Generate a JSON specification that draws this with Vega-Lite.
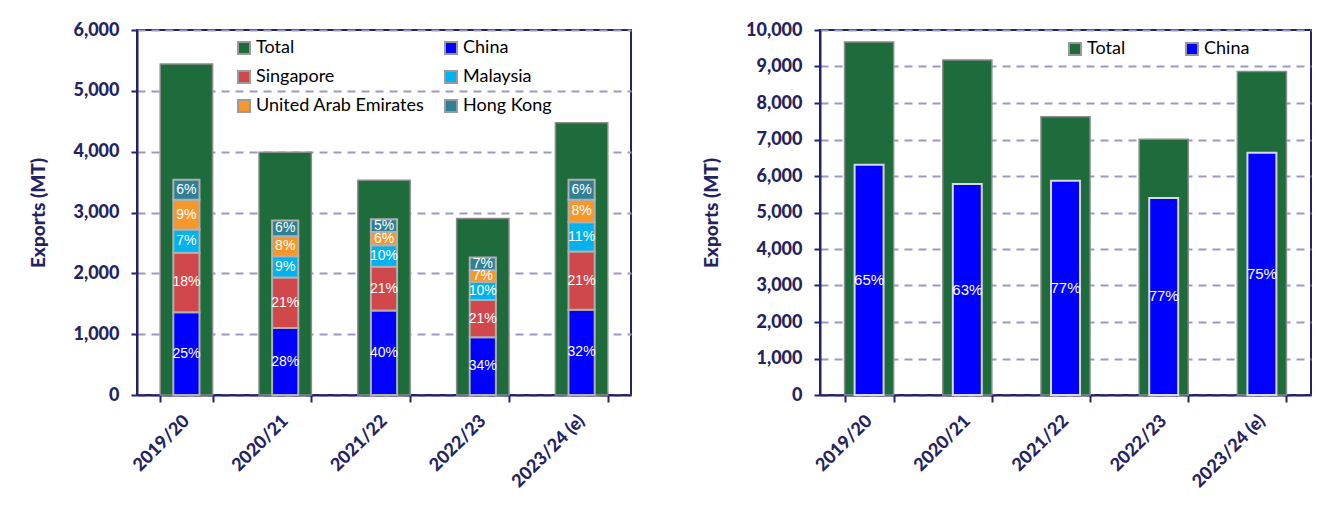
{
  "$schema": "https://vega.github.io/schema/vega-lite/v6.json",
  "background": "white",
  "padding": {"left": 28, "top": 20, "right": 5, "bottom": 5},
  "spacing": 189,
  "bounds": "flush",
  "config": {
    "view": {"stroke": "#23236b", "strokeWidth": 2},
    "axis": {
      "labelFont": "Lato", "labelFontWeight": 900, "labelColor": "#23235f", "labelFontSize": 18,
      "domainColor": "#23236b", "domainWidth": 2, "tickColor": "#23236b", "tickWidth": 2, "tickSize": 6,
      "titleFont": "Lato", "titleFontWeight": 900, "titleColor": "#23235f", "titleFontSize": 19
    },
    "axisY": {"gridColor": "#9a9ac4", "gridDash": [8, 6], "gridWidth": 2, "labelPadding": 12, "titlePadding": 24},
    "axisX": {"labelAngle": -45, "grid": false, "labelAlign": "right", "labelBaseline": "middle", "labelPadding": 16, "tickBand": "extent", "tickSize": 7},
    "legend": {
      "symbolType": "square", "symbolSize": 144, "symbolStrokeColor": "#9a9a9a", "symbolStrokeWidth": 2,
      "labelFont": "Lato", "labelFontSize": 18, "labelColor": "#000000", "labelLimit": 300,
      "rowPadding": 9, "labelOffset": 3, "padding": 0
    }
  },
  "resolve": {"scale": {"color": "independent", "x": "independent", "y": "independent"}, "legend": {"color": "independent"}},
  "hconcat": [
    {
      "width": 494,
      "height": 365,
      "data": {"values": [
        {"year": "2019/20", "series": "Total", "value": 5440, "pct": ""},
        {"year": "2019/20", "series": "China", "value": 1360, "pct": "25%"},
        {"year": "2019/20", "series": "Singapore", "value": 980, "pct": "18%"},
        {"year": "2019/20", "series": "Malaysia", "value": 380, "pct": "7%"},
        {"year": "2019/20", "series": "United Arab Emirates", "value": 490, "pct": "9%"},
        {"year": "2019/20", "series": "Hong Kong", "value": 330, "pct": "6%"},
        {"year": "2020/21", "series": "Total", "value": 3990, "pct": ""},
        {"year": "2020/21", "series": "China", "value": 1100, "pct": "28%"},
        {"year": "2020/21", "series": "Singapore", "value": 830, "pct": "21%"},
        {"year": "2020/21", "series": "Malaysia", "value": 350, "pct": "9%"},
        {"year": "2020/21", "series": "United Arab Emirates", "value": 330, "pct": "8%"},
        {"year": "2020/21", "series": "Hong Kong", "value": 260, "pct": "6%"},
        {"year": "2021/22", "series": "Total", "value": 3530, "pct": ""},
        {"year": "2021/22", "series": "China", "value": 1390, "pct": "40%"},
        {"year": "2021/22", "series": "Singapore", "value": 720, "pct": "21%"},
        {"year": "2021/22", "series": "Malaysia", "value": 350, "pct": "10%"},
        {"year": "2021/22", "series": "United Arab Emirates", "value": 220, "pct": "6%"},
        {"year": "2021/22", "series": "Hong Kong", "value": 210, "pct": "5%"},
        {"year": "2022/23", "series": "Total", "value": 2900, "pct": ""},
        {"year": "2022/23", "series": "China", "value": 950, "pct": "34%"},
        {"year": "2022/23", "series": "Singapore", "value": 610, "pct": "21%"},
        {"year": "2022/23", "series": "Malaysia", "value": 300, "pct": "10%"},
        {"year": "2022/23", "series": "United Arab Emirates", "value": 190, "pct": "7%"},
        {"year": "2022/23", "series": "Hong Kong", "value": 210, "pct": "7%"},
        {"year": "2023/24 (e)", "series": "Total", "value": 4475, "pct": ""},
        {"year": "2023/24 (e)", "series": "China", "value": 1400, "pct": "32%"},
        {"year": "2023/24 (e)", "series": "Singapore", "value": 960, "pct": "21%"},
        {"year": "2023/24 (e)", "series": "Malaysia", "value": 480, "pct": "11%"},
        {"year": "2023/24 (e)", "series": "United Arab Emirates", "value": 370, "pct": "8%"},
        {"year": "2023/24 (e)", "series": "Hong Kong", "value": 330, "pct": "6%"}
      ]},
      "encoding": {
        "x": {"field": "year", "type": "nominal", "sort": null, "title": null,
              "scale": {"paddingInner": 0.47, "paddingOuter": 0.235}}
      },
      "layer": [
        {
          "transform": [{"filter": "datum.series === 'Total'"}],
          "mark": {"type": "bar", "stroke": "#8a8a8a", "strokeWidth": 1.5},
          "encoding": {
            "y": {"field": "value", "type": "quantitative", "title": "Exports (MT)",
                  "scale": {"domain": [0, 6000], "nice": false},
                  "axis": {"values": [0, 1000, 2000, 3000, 4000, 5000, 6000], "format": ",d"}},
            "color": {"field": "series", "type": "nominal",
              "scale": {"domain": ["Total", "Singapore", "United Arab Emirates", "China", "Malaysia", "Hong Kong"],
                        "range": ["#1e6b3c", "#d0484b", "#f7962a", "#0000ff", "#00b2ee", "#2f7f96"]},
              "legend": {"orient": "none", "legendX": 98, "legendY": 9, "columns": 2, "columnPadding": 16, "title": null}}
          }
        },
        {
          "transform": [
            {"filter": "datum.series !== 'Total'"},
            {"calculate": "indexof(['China','Singapore','Malaysia','United Arab Emirates','Hong Kong'], datum.series)", "as": "k"},
            {"stack": "value", "groupby": ["year"], "sort": [{"field": "k", "order": "ascending"}], "as": ["v0", "v1"]}
          ],
          "mark": {"type": "bar", "width": {"band": 0.5}, "stroke": "#b0b0b0", "strokeWidth": 2},
          "encoding": {
            "y": {"field": "v0", "type": "quantitative", "title": "Exports (MT)",
                  "axis": {"values": [0, 1000, 2000, 3000, 4000, 5000, 6000], "format": ",d"}},
            "y2": {"field": "v1"},
            "color": {"field": "series", "type": "nominal"}
          }
        },
        {
          "transform": [
            {"filter": "datum.series !== 'Total'"},
            {"calculate": "indexof(['China','Singapore','Malaysia','United Arab Emirates','Hong Kong'], datum.series)", "as": "k"},
            {"stack": "value", "groupby": ["year"], "sort": [{"field": "k", "order": "ascending"}], "as": ["v0", "v1"]},
            {"calculate": "(datum.v0 + datum.v1) / 2", "as": "mid"}
          ],
          "mark": {"type": "text", "color": "white", "font": "'Liberation Sans Narrow', 'Liberation Sans'", "fontSize": 14, "baseline": "middle"},
          "encoding": {
            "y": {"field": "mid", "type": "quantitative", "title": "Exports (MT)",
                  "axis": {"values": [0, 1000, 2000, 3000, 4000, 5000, 6000], "format": ",d"}},
            "text": {"field": "pct"}
          }
        }
      ]
    },
    {
      "width": 491,
      "height": 365,
      "data": {"values": [
        {"year": "2019/20", "series": "Total", "value": 9670, "pct": ""},
        {"year": "2019/20", "series": "China", "value": 6310, "pct": "65%"},
        {"year": "2020/21", "series": "Total", "value": 9180, "pct": ""},
        {"year": "2020/21", "series": "China", "value": 5780, "pct": "63%"},
        {"year": "2021/22", "series": "Total", "value": 7620, "pct": ""},
        {"year": "2021/22", "series": "China", "value": 5870, "pct": "77%"},
        {"year": "2022/23", "series": "Total", "value": 7010, "pct": ""},
        {"year": "2022/23", "series": "China", "value": 5400, "pct": "77%"},
        {"year": "2023/24 (e)", "series": "Total", "value": 8860, "pct": ""},
        {"year": "2023/24 (e)", "series": "China", "value": 6640, "pct": "75%"}
      ]},
      "encoding": {
        "x": {"field": "year", "type": "nominal", "sort": null, "title": null,
              "scale": {"paddingInner": 0.5, "paddingOuter": 0.25}}
      },
      "layer": [
        {
          "transform": [{"filter": "datum.series === 'Total'"}],
          "mark": {"type": "bar", "stroke": "#8a8a8a", "strokeWidth": 1.5},
          "encoding": {
            "y": {"field": "value", "type": "quantitative", "title": "Exports (MT)",
                  "scale": {"domain": [0, 10000], "nice": false},
                  "axis": {"values": [0, 1000, 2000, 3000, 4000, 5000, 6000, 7000, 8000, 9000, 10000], "format": ",d"}},
            "color": {"field": "series", "type": "nominal",
              "scale": {"domain": ["Total", "China"], "range": ["#1e6b3c", "#0000ff"]},
              "legend": {"orient": "none", "legendX": 246, "legendY": 10, "columns": 2, "columnPadding": 56, "title": null}}
          }
        },
        {
          "transform": [{"filter": "datum.series === 'China'"}],
          "mark": {"type": "bar", "width": {"band": 0.59}, "stroke": "#d9d9d9", "strokeWidth": 2},
          "encoding": {
            "y": {"field": "value", "type": "quantitative", "title": "Exports (MT)",
                  "axis": {"values": [0, 1000, 2000, 3000, 4000, 5000, 6000, 7000, 8000, 9000, 10000], "format": ",d"}},
            "color": {"field": "series", "type": "nominal"}
          }
        },
        {
          "transform": [{"filter": "datum.series === 'China'"}, {"calculate": "datum.value / 2", "as": "mid"}],
          "mark": {"type": "text", "color": "white", "font": "'Liberation Sans Narrow', 'Liberation Sans'", "fontSize": 15, "baseline": "middle"},
          "encoding": {
            "y": {"field": "mid", "type": "quantitative", "title": "Exports (MT)",
                  "axis": {"values": [0, 1000, 2000, 3000, 4000, 5000, 6000, 7000, 8000, 9000, 10000], "format": ",d"}},
            "text": {"field": "pct"}
          }
        }
      ]
    }
  ]
}
